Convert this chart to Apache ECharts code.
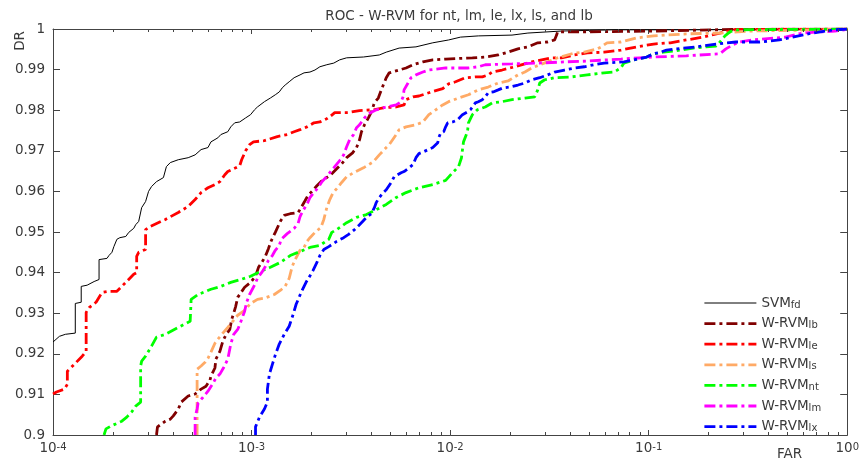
<!DOCTYPE html>
<html><head><meta charset="utf-8">
<script src="https://cdn.jsdelivr.net/npm/echarts@6/dist/echarts.min.js"></script>
<style>html,body{margin:0;padding:0;background:#fff;}#c{width:862px;height:459px;}</style>
</head><body><div id="c"></div>
<script>
// ---- data: [FAR, DR] ----
const svmFd = [[1.0e-4,.9229],[1.077e-4,.9243],[1.154e-4,.9248],[1.295e-4,.9251],[1.295e-4,.9324],[1.387e-4,.9327],[1.387e-4,.9366],[1.486e-4,.9369],[1.611e-4,.9378],[1.706e-4,.9383],[1.706e-4,.9432],[1.870e-4,.9435],[1.913e-4,.9442],[1.981e-4,.9450],[2.026e-4,.9464],[2.098e-4,.9482],[2.171e-4,.9486],[2.326e-4,.9489],[2.407e-4,.9499],[2.550e-4,.9509],[2.609e-4,.9518],[2.701e-4,.9526],[2.796e-4,.9560],[2.926e-4,.9575],[3.029e-4,.9600],[3.135e-4,.9612],[3.321e-4,.9624],[3.598e-4,.9634],[3.725e-4,.9661],[3.899e-4,.9671],[4.275e-4,.9678],[4.796e-4,.9683],[5.197e-4,.9690],[5.568e-4,.9703],[6.032e-4,.9708],[6.245e-4,.9722],[6.767e-4,.9732],[7.005e-4,.9740],[7.592e-4,.9747],[7.859e-4,.9759],[8.228e-4,.9769],[8.712e-4,.9771],[9.335e-4,.9781],[9.886e-4,.9789],[1.035e-3,.9801],[1.071e-3,.9808],[1.161e-3,.9821],[1.244e-3,.9830],[1.317e-3,.9838],[1.379e-3,.9845],[1.427e-3,.9855],[1.477e-3,.9862],[1.547e-3,.9870],[1.638e-3,.9880],[1.755e-3,.9887],[1.838e-3,.9892],[1.969e-3,.9894],[2.086e-3,.9899],[2.209e-3,.9907],[2.393e-3,.9912],[2.594e-3,.9916],[2.779e-3,.9924],[3.012e-3,.9929],[3.661e-3,.9931],[4.399e-3,.9936],[4.768e-3,.9943],[5.536e-3,.9953],[6.729e-3,.9956],[8.180e-3,.9966],[9.829e-3,.9973],[1.128e-2,.9980],[1.387e-2,.9983],[2.050e-2,.9985],[2.464e-2,.9990],[3.640e-2,.9995],[6.690e-2,.9998],[1.677e-1,.9998],[1,1]];
const wrvmLb = [[3.321e-4,.9000],[3.359e-4,.9020],[3.683e-4,.9034],[3.899e-4,.9039],[4.036e-4,.9047],[4.275e-4,.9064],[4.425e-4,.9081],[4.796e-4,.9096],[5.197e-4,.9101],[5.568e-4,.9113],[5.896e-4,.9120],[6.172e-4,.9135],[6.245e-4,.9145],[6.539e-4,.9165],[6.613e-4,.9187],[6.925e-4,.9206],[7.168e-4,.9231],[7.419e-4,.9246],[7.768e-4,.9260],[7.946e-4,.9285],[8.131e-4,.9300],[8.322e-4,.9317],[8.516e-4,.9339],[9.229e-4,.9364],[9.886e-4,.9376],[1.047e-3,.9391],[1.084e-3,.9413],[1.135e-3,.9428],[1.174e-3,.9440],[1.216e-3,.9459],[1.258e-3,.9479],[1.317e-3,.9499],[1.395e-3,.9526],[1.461e-3,.9541],[1.565e-3,.9545],[1.716e-3,.9548],[1.776e-3,.9560],[1.859e-3,.9577],[1.924e-3,.9590],[2.015e-3,.9600],[2.134e-3,.9614],[2.235e-3,.9624],[2.339e-3,.9631],[2.507e-3,.9641],[2.685e-3,.9656],[2.843e-3,.9668],[3.012e-3,.9683],[3.227e-3,.9695],[3.379e-3,.9708],[3.497e-3,.9727],[3.578e-3,.9747],[3.704e-3,.9764],[3.877e-3,.9781],[4.013e-3,.9796],[4.154e-3,.9818],[4.349e-3,.9830],[4.502e-3,.9850],[4.607e-3,.9862],[4.768e-3,.9880],[4.935e-3,.9892],[5.536e-3,.9899],[5.998e-3,.9904],[6.501e-3,.9912],[7.292e-3,.9919],[8.180e-3,.9924],[9.497e-3,.9926],[1.295e-2,.9929],[1.503e-2,.9931],[1.746e-2,.9936],[1.957e-2,.9943],[2.196e-2,.9951],[2.464e-2,.9956],[2.763e-2,.9966],[3.099e-2,.9968],[3.359e-2,.9973],[3.438e-2,.9985],[3.476e-2,.9993],[4.907e-2,.9993],[1.059e-1,.9995],[2.748e-1,.9999],[1,1]];
const wrvmLe = [[1.000e-4,.9101],[1.041e-4,.9106],[1.141e-4,.9113],[1.181e-4,.9125],[1.181e-4,.9157],[1.280e-4,.9174],[1.403e-4,.9194],[1.469e-4,.9206],[1.469e-4,.9302],[1.521e-4,.9314],[1.648e-4,.9327],[1.765e-4,.9351],[1.913e-4,.9354],[2.098e-4,.9354],[2.326e-4,.9376],[2.550e-4,.9396],[2.639e-4,.9400],[2.639e-4,.9440],[2.701e-4,.9450],[2.926e-4,.9457],[2.926e-4,.9506],[3.099e-4,.9514],[3.683e-4,.9531],[4.275e-4,.9548],[4.796e-4,.9563],[5.197e-4,.9580],[5.568e-4,.9597],[6.032e-4,.9609],[6.539e-4,.9617],[6.925e-4,.9624],[7.334e-4,.9641],[7.592e-4,.9649],[8.322e-4,.9658],[8.712e-4,.9663],[8.915e-4,.9678],[9.335e-4,.9700],[9.772e-4,.9715],[1.023e-3,.9722],[1.161e-3,.9725],[1.348e-3,.9735],[1.512e-3,.9740],[1.638e-3,.9747],[1.755e-3,.9752],[1.902e-3,.9759],[2.062e-3,.9769],[2.209e-3,.9771],[2.393e-3,.9779],[2.507e-3,.9786],[2.624e-3,.9794],[3.012e-3,.9794],[3.497e-3,.9799],[4.107e-3,.9801],[4.607e-3,.9806],[5.350e-3,.9808],[5.863e-3,.9813],[5.998e-3,.9826],[6.501e-3,.9833],[6.965e-3,.9835],[7.814e-3,.9843],[8.467e-3,.9848],[9.176e-3,.9853],[9.829e-3,.9865],[1.065e-2,.9870],[1.195e-2,.9880],[1.340e-2,.9882],[1.453e-2,.9882],[1.556e-2,.9887],[1.629e-2,.9894],[1.827e-2,.9899],[2.122e-2,.9907],[2.579e-2,.9919],[2.893e-2,.9924],[3.245e-2,.9929],[3.640e-2,.9929],[4.226e-2,.9936],[4.907e-2,.9941],[5.965e-2,.9943],[7.250e-2,.9948],[8.712e-2,.9956],[1.059e-1,.9963],[1.287e-1,.9966],[1.547e-1,.9973],[1.881e-1,.9980],[2.286e-1,.9990],[2.748e-1,.9999],[1,1]];
const wrvmLs = [[5.318e-4,.9000],[5.318e-4,.9162],[5.568e-4,.9170],[5.830e-4,.9179],[6.032e-4,.9189],[6.245e-4,.9204],[6.539e-4,.9226],[6.767e-4,.9236],[7.168e-4,.9251],[7.592e-4,.9265],[8.038e-4,.9280],[8.516e-4,.9295],[9.229e-4,.9307],[9.886e-4,.9324],[1.071e-3,.9334],[1.161e-3,.9337],[1.302e-3,.9346],[1.395e-3,.9356],[1.477e-3,.9366],[1.547e-3,.9386],[1.602e-3,.9415],[1.658e-3,.9432],[1.755e-3,.9455],[1.838e-3,.9462],[1.902e-3,.9477],[1.969e-3,.9486],[2.086e-3,.9499],[2.235e-3,.9511],[2.312e-3,.9531],[2.393e-3,.9560],[2.478e-3,.9580],[2.564e-3,.9595],[2.685e-3,.9607],[2.843e-3,.9622],[3.012e-3,.9636],[3.265e-3,.9646],[3.661e-3,.9658],[4.107e-3,.9673],[4.399e-3,.9690],[4.768e-3,.9708],[4.935e-3,.9715],[5.350e-3,.9740],[5.536e-3,.9752],[5.998e-3,.9759],[6.729e-3,.9764],[7.292e-3,.9771],[7.814e-3,.9789],[8.467e-3,.9801],[9.176e-3,.9813],[9.829e-3,.9821],[1.103e-2,.9830],[1.237e-2,.9838],[1.387e-2,.9850],[1.556e-2,.9857],[1.746e-2,.9867],[1.957e-2,.9872],[2.196e-2,.9887],[2.380e-2,.9894],[2.579e-2,.9904],[2.828e-2,.9912],[3.099e-2,.9919],[3.476e-2,.9929],[4.226e-2,.9941],[4.741e-2,.9943],[5.504e-2,.9951],[5.764e-2,.9956],[6.172e-2,.9966],[7.250e-2,.9968],[8.712e-2,.9978],[1.059e-1,.9983],[1.547e-1,.9988],[2.286e-1,.9990],[3.342e-1,.9995],[7.210e-1,.9998],[1,1]];
const wrvmNt = [[1.807e-4,.9000],[1.848e-4,.9015],[1.957e-4,.9022],[2.222e-4,.9034],[2.353e-4,.9044],[2.492e-4,.9057],[2.609e-4,.9071],[2.763e-4,.9081],[2.763e-4,.9170],[2.796e-4,.9182],[2.926e-4,.9194],[3.135e-4,.9219],[3.321e-4,.9241],[3.683e-4,.9248],[4.275e-4,.9265],[4.907e-4,.9280],[4.963e-4,.9334],[5.379e-4,.9346],[6.245e-4,.9359],[7.005e-4,.9366],[7.859e-4,.9376],[8.814e-4,.9383],[9.886e-4,.9391],[1.109e-3,.9403],[1.244e-3,.9413],[1.395e-3,.9425],[1.565e-3,.9442],[1.755e-3,.9452],[1.969e-3,.9462],[2.209e-3,.9467],[2.449e-3,.9482],[2.535e-3,.9499],[2.685e-3,.9506],[3.012e-3,.9523],[3.379e-3,.9536],[3.790e-3,.9543],[4.251e-3,.9555],[4.768e-3,.9568],[5.350e-3,.9585],[5.998e-3,.9597],[6.965e-3,.9609],[8.180e-3,.9617],[9.497e-3,.9627],[1.029e-2,.9646],[1.103e-2,.9661],[1.141e-2,.9683],[1.154e-2,.9703],[1.168e-2,.9722],[1.223e-2,.9747],[1.237e-2,.9769],[1.295e-2,.9789],[1.371e-2,.9801],[1.503e-2,.9808],[1.629e-2,.9818],[1.827e-2,.9821],[2.050e-2,.9826],[2.380e-2,.9830],[2.669e-2,.9833],[2.763e-2,.9850],[2.828e-2,.9867],[2.995e-2,.9875],[3.359e-2,.9880],[4.083e-2,.9882],[4.907e-2,.9887],[5.965e-2,.9892],[6.690e-2,.9894],[7.250e-2,.9904],[7.505e-2,.9916],[8.420e-2,.9924],[9.772e-2,.9931],[1.059e-1,.9939],[1.188e-1,.9943],[1.444e-1,.9948],[1.677e-1,.9953],[1.947e-1,.9956],[2.184e-1,.9958],[2.286e-1,.9968],[2.367e-1,.9978],[2.449e-1,.9985],[2.564e-1,.9993],[2.717e-1,.9998],[1,1]];
const wrvmLm = [[5.197e-4,.9000],[5.197e-4,.9044],[5.318e-4,.9064],[5.379e-4,.9079],[5.696e-4,.9093],[6.032e-4,.9108],[6.318e-4,.9123],[6.613e-4,.9140],[6.925e-4,.9150],[7.250e-4,.9167],[7.592e-4,.9187],[7.859e-4,.9224],[8.131e-4,.9248],[8.516e-4,.9260],[8.814e-4,.9278],[9.229e-4,.9305],[9.443e-4,.9327],[9.772e-4,.9346],[1.035e-3,.9369],[1.071e-3,.9386],[1.135e-3,.9403],[1.174e-3,.9415],[1.216e-3,.9430],[1.273e-3,.9442],[1.317e-3,.9455],[1.379e-3,.9467],[1.411e-3,.9482],[1.512e-3,.9496],[1.638e-3,.9509],[1.716e-3,.9521],[1.755e-3,.9538],[1.817e-3,.9553],[1.902e-3,.9568],[1.969e-3,.9585],[2.062e-3,.9597],[2.184e-3,.9612],[2.261e-3,.9624],[2.367e-3,.9634],[2.507e-3,.9649],[2.624e-3,.9661],[2.779e-3,.9676],[2.910e-3,.9690],[3.012e-3,.9710],[3.117e-3,.9727],[3.265e-3,.9740],[3.379e-3,.9757],[3.497e-3,.9764],[3.704e-3,.9781],[3.877e-3,.9791],[4.251e-3,.9801],[4.607e-3,.9806],[5.350e-3,.9813],[5.664e-3,.9821],[5.797e-3,.9833],[5.863e-3,.9850],[6.137e-3,.9867],[6.353e-3,.9880],[6.729e-3,.9887],[7.292e-3,.9894],[7.814e-3,.9899],[9.497e-3,.9904],[1.237e-2,.9904],[1.387e-2,.9907],[1.503e-2,.9912],[2.050e-2,.9914],[2.763e-2,.9916],[3.768e-2,.9919],[4.907e-2,.9921],[7.250e-2,.9926],[1.059e-1,.9931],[1.547e-1,.9934],[2.286e-1,.9939],[2.449e-1,.9951],[2.655e-1,.9961],[2.876e-1,.9968],[3.342e-1,.9973],[4.879e-1,.9980],[5.938e-1,.9990],[8.664e-1,.9995],[1,.9999]];
const wrvmLx = [[1.047e-3,.9000],[1.047e-3,.9020],[1.096e-3,.9044],[1.161e-3,.9064],[1.202e-3,.9081],[1.202e-3,.9113],[1.230e-3,.9150],[1.273e-3,.9174],[1.317e-3,.9197],[1.379e-3,.9224],[1.461e-3,.9248],[1.547e-3,.9268],[1.620e-3,.9297],[1.677e-3,.9322],[1.735e-3,.9339],[1.796e-3,.9356],[1.881e-3,.9376],[1.947e-3,.9388],[2.038e-3,.9405],[2.134e-3,.9425],[2.209e-3,.9442],[2.312e-3,.9457],[2.449e-3,.9464],[2.685e-3,.9477],[2.910e-3,.9486],[3.082e-3,.9494],[3.302e-3,.9506],[3.497e-3,.9518],[3.790e-3,.9536],[4.013e-3,.9545],[4.154e-3,.9560],[4.251e-3,.9573],[4.399e-3,.9585],[4.607e-3,.9597],[4.768e-3,.9604],[5.050e-3,.9622],[5.227e-3,.9636],[5.664e-3,.9646],[5.863e-3,.9649],[6.209e-3,.9658],[6.501e-3,.9666],[6.729e-3,.9683],[6.965e-3,.9693],[7.376e-3,.9698],[8.180e-3,.9708],[8.664e-3,.9720],[8.763e-3,.9732],[8.967e-3,.9744],[9.281e-3,.9747],[9.497e-3,.9759],[9.717e-3,.9769],[1.029e-2,.9771],[1.090e-2,.9776],[1.154e-2,.9789],[1.223e-2,.9796],[1.265e-2,.9801],[1.295e-2,.9808],[1.340e-2,.9818],[1.387e-2,.9821],[1.453e-2,.9826],[1.503e-2,.9833],[1.556e-2,.9843],[1.648e-2,.9845],[1.746e-2,.9850],[1.848e-2,.9855],[2.003e-2,.9857],[2.196e-2,.9862],[2.380e-2,.9867],[2.579e-2,.9875],[2.828e-2,.9880],[3.099e-2,.9887],[3.359e-2,.9894],[3.768e-2,.9899],[4.226e-2,.9904],[4.741e-2,.9907],[5.318e-2,.9912],[5.965e-2,.9916],[7.505e-2,.9919],[8.420e-2,.9924],[9.772e-2,.9931],[1.059e-1,.9939],[1.148e-1,.9943],[1.230e-1,.9948],[1.379e-1,.9951],[1.735e-1,.9956],[2.184e-1,.9963],[2.748e-1,.9968],[3.619e-1,.9968],[4.554e-1,.9973],[5.293e-1,.9980],[6.662e-1,.9990],[8.664e-1,.9998],[1,1]];

const seriesNames = ['SVMfd','W-RVMlb','W-RVMle','W-RVMls','W-RVMnt','W-RVMlm','W-RVMlx'];
const legendMain = ['SVM','W-RVM','W-RVM','W-RVM','W-RVM','W-RVM','W-RVM'];
const legendSub = ['fd','lb','le','ls','nt','lm','lx'];
const seriesData = [svmFd, wrvmLb, wrvmLe, wrvmLs, wrvmNt, wrvmLm, wrvmLx];
const seriesColors = ['#000000','#800000','#ff0000','#ffaa66','#00ff00','#ff00ff','#0000ff'];
const xMin = 1e-4, xMax = 1;
const yMin = 0.9, yMax = 1, yStep = 0.01;
const titleText = 'ROC - W-RVM for nt, lm, le, lx, ls, and lb';

// minor log ticks (2..9 in each decade)
const minorTicks = [];
for (let e = -4; e <= -1; e++) for (let k = 2; k <= 9; k++) minorTicks.push([k * Math.pow(10, e), yMin]);

const FONT = 'DejaVu Sans';
const TXT = '#3a3a3a';
const AX = '#444444';
const chart = echarts.init(document.getElementById('c'), null, {renderer: 'canvas'});

const lineStyles = seriesColors.map((c, i) => i === 0
  ? {color: c, width: 1, type: 'solid'}
  : {color: c, width: 2.8, type: [11, 4, 3, 4], cap: 'butt'});

const lineSeries = seriesData.map((d, i) => ({
  name: seriesNames[i],
  type: 'line',
  data: d,
  xAxisIndex: 0, yAxisIndex: 0,
  symbol: 'none', showSymbol: false,
  animation: false,
  color: seriesColors[i],
  lineStyle: lineStyles[i],
  z: 2 + i
}));

const tickSeries = {
  type: 'custom',
  data: minorTicks,
  xAxisIndex: 0, yAxisIndex: 0,
  silent: true, animation: false, clip: false, z: 20,
  encode: {x: 0, y: 1},
  renderItem: function (params, api) {
    const v = api.value(0);
    const b = api.coord([v, yMin]);
    const t = api.coord([v, yMax]);
    const x = Math.round(b[0]) + 0.5;
    return {type: 'group', children: [
      {type: 'line', shape: {x1: x, y1: b[1], x2: x, y2: b[1] - 3}, style: {stroke: AX, lineWidth: 1}},
      {type: 'line', shape: {x1: x, y1: t[1], x2: x, y2: t[1] + 3}, style: {stroke: AX, lineWidth: 1}}
    ]};
  }
};

const option = {
  animation: false,
  backgroundColor: '#ffffff',
  title: {text: titleText, left: 454, textAlign: 'center', top: 4,
    textStyle: {fontFamily: FONT, fontSize: 13.5, fontWeight: 'normal', color: TXT}},
  grid: {left: 53, right: 6, top: 29, bottom: 23, containLabel: false},
  legend: {
    orient: 'vertical', left: 698, top: 288,
    itemWidth: 52, itemHeight: 16, itemGap: 3.6,
    itemStyle: {opacity: 0},
    lineStyle: {width: 'inherit'},
    data: seriesNames.map((n, i) => ({name: n, lineStyle: {width: lineStyles[i].width}})),
    formatter: function (name) {
      const i = seriesNames.indexOf(name);
      return '{b|' + legendMain[i] + '}{s|' + legendSub[i] + '}';
    },
    textStyle: {
      color: TXT,
      rich: {
        b: {fontFamily: FONT, fontSize: 13.5, color: TXT, lineHeight: 14, verticalAlign: 'top'},
        s: {fontFamily: FONT, fontSize: 10, color: TXT, lineHeight: 10, verticalAlign: 'bottom', padding: [7, 0, 0, 0]}
      }
    }
  },
  xAxis: [
    {type: 'log', logBase: 10, min: xMin, max: xMax, position: 'bottom',
      axisLine: {show: true, onZero: false, lineStyle: {color: AX, width: 1}},
      axisTick: {show: true, inside: true, length: 5, lineStyle: {color: AX}},
      splitLine: {show: false}, minorTick: {show: false},
      axisLabel: {
        margin: 7, color: TXT,
        formatter: function (v) { const e = Math.round(Math.log10(v)); return '{b|10}{s|' + e + '}'; },
        rich: {
          b: {fontFamily: FONT, fontSize: 13.5, color: TXT, lineHeight: 13, verticalAlign: 'bottom'},
          s: {fontFamily: FONT, fontSize: 10, color: TXT, lineHeight: 10, verticalAlign: 'top', padding: [0, 0, 7, 0]}
        }
      }},
    {type: 'log', logBase: 10, min: xMin, max: xMax, position: 'top',
      axisLine: {show: true, onZero: false, lineStyle: {color: AX, width: 1}},
      axisTick: {show: true, inside: true, length: 5, lineStyle: {color: AX}},
      splitLine: {show: false}, axisLabel: {show: false}}
  ],
  yAxis: [
    {type: 'value', min: yMin, max: yMax, interval: yStep, position: 'left',
      axisLine: {show: true, onZero: false, lineStyle: {color: AX, width: 1}},
      axisTick: {show: true, inside: true, length: 7, lineStyle: {color: AX}},
      splitLine: {show: false},
      axisLabel: {margin: 8, color: TXT, fontFamily: FONT, fontSize: 13.5}},
    {type: 'value', min: yMin, max: yMax, interval: yStep, position: 'right',
      axisLine: {show: true, onZero: false, lineStyle: {color: AX, width: 1}},
      axisTick: {show: true, inside: true, length: 7, lineStyle: {color: AX}},
      splitLine: {show: false}, axisLabel: {show: false}}
  ],
  graphic: [
    {type: 'text', left: 13, top: 31, rotation: Math.PI / 2,
      style: {text: 'DR', fontFamily: FONT, fontSize: 13.5, fill: TXT}},
    {type: 'text', left: 777, top: 447,
      style: {text: 'FAR', fontFamily: FONT, fontSize: 13.5, fill: TXT}}
  ],
  series: lineSeries.concat([tickSeries])
};
chart.setOption(option);
</script></body></html>
